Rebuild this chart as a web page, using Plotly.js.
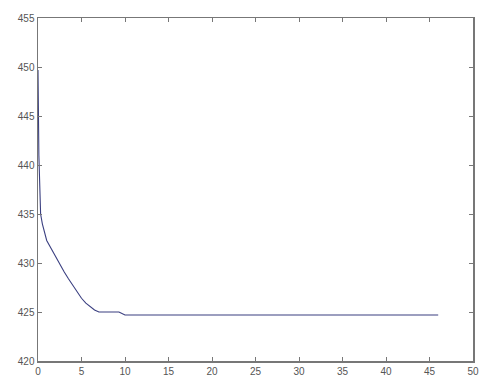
<!DOCTYPE html>
<html><head><meta charset="utf-8">
<script src="https://cdn.plot.ly/plotly-3.0.1.min.js"></script>
<style>html,body{margin:0;padding:0;background:#fff;}#plot{width:479px;height:377px;}</style>
</head><body><div id="plot"></div>
<script>
const xValues = [0, 0.1, 0.3, 0.5, 1, 1.5, 2, 2.5, 3, 3.5, 4, 4.5, 5, 5.5, 6, 6.5, 7, 9.3, 10, 46];
const yValues = [449.7, 441, 435, 434, 432.3, 431.5, 430.6, 429.9, 429.1, 428.4, 427.7, 427.0, 426.4, 425.9, 425.5, 425.2, 425, 425, 424.7, 424.7];
const xTicks = [0, 5, 10, 15, 20, 25, 30, 35, 40, 45, 50];
const yTicks = [420, 425, 430, 435, 440, 445, 450, 455];

const axisCommon = {
  showgrid: false, zeroline: false, showline: true, linecolor: '#777', linewidth: 1.5,
  mirror: 'allticks', ticks: 'inside', ticklen: 4, tickcolor: '#777', tickwidth: 1,
  tickfont: {family: 'Liberation Sans Narrow, Liberation Sans, Arial, sans-serif', size: 10, color: '#555'}
};
Plotly.newPlot('plot', [{
  x: xValues, y: yValues, type: 'scatter', mode: 'lines',
  line: {color: '#3a3f80', width: 1.1}
}], {
  width: 479, height: 377,
  margin: {l: 38, r: 6, t: 18, b: 16},
  paper_bgcolor: '#fff', plot_bgcolor: '#fff', showlegend: false,
  xaxis: Object.assign({}, axisCommon, {range: [0, 50], tickvals: xTicks, ticktext: xTicks.map(String)}),
  yaxis: Object.assign({}, axisCommon, {range: [420, 455], tickvals: yTicks, ticktext: yTicks.map(String)})
}, {displayModeBar: false, staticPlot: true});
</script></body></html>
